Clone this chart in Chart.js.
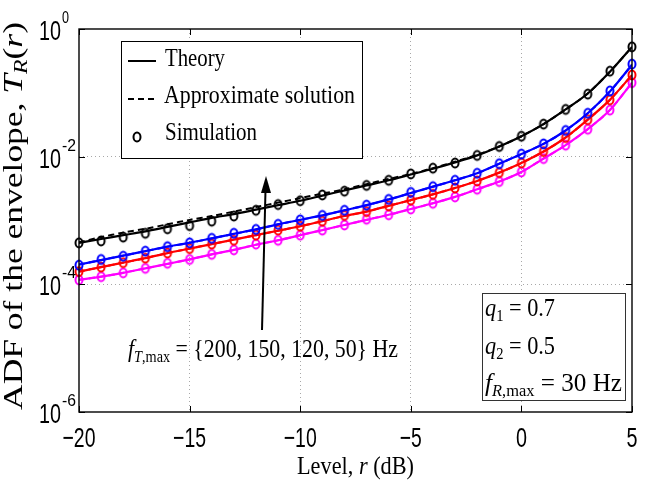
<!DOCTYPE html>
<html>
<head>
<meta charset="utf-8">
<script src="https://cdn.jsdelivr.net/npm/chart.js@4.4.1/dist/chart.umd.min.js"></script>
<style>
    html, body { margin: 0; padding: 0; background: #fff; }
    #wrap { width: 652px; height: 486px; }
</style>
</head>
<body>
<div id="wrap"><canvas id="adfChart" width="652" height="486"></canvas></div>
<script>
// level r in dB (simulation points every 1 dB)
const levels = [-20, -19, -18, -17, -16, -15, -14, -13, -12, -11, -10, -9, -8, -7, -6, -5, -4, -3, -2, -1, 0, 1, 2, 3, 4, 5];

// log10 of the ADF
// fT,max = 200 Hz (black)
const theoryBlack = [-3.35, -3.29, -3.23, -3.17, -3.10, -3.03, -2.96, -2.90, -2.83, -2.76, -2.69, -2.61, -2.53, -2.45, -2.37, -2.28, -2.19, -2.09, -1.98, -1.84, -1.68, -1.49, -1.26, -1.01, -0.67, -0.28];
const approxBlack = [-3.34, -3.26, -3.19, -3.13, -3.06, -2.99, -2.93, -2.86, -2.79, -2.72, -2.65, -2.58, -2.51, -2.43, -2.35, -2.27, -2.18, -2.08, -1.97, -1.84, -1.68, -1.49, -1.26, -1.01, -0.67, -0.28];
const simBlack = [-3.35, -3.32, -3.26, -3.20, -3.13, -3.08, -3.01, -2.93, -2.84, -2.75, -2.69, -2.60, -2.54, -2.45, -2.37, -2.27, -2.18, -2.10, -1.98, -1.84, -1.68, -1.49, -1.26, -1.02, -0.66, -0.28];
// fT,max = 150 Hz (blue)
const theoryBlue = [-3.69, -3.62, -3.55, -3.48, -3.41, -3.35, -3.28, -3.21, -3.14, -3.06, -2.99, -2.92, -2.84, -2.76, -2.67, -2.57, -2.47, -2.37, -2.26, -2.11, -1.96, -1.80, -1.59, -1.32, -0.98, -0.56];
const simBlue = [-3.70, -3.61, -3.56, -3.48, -3.41, -3.35, -3.28, -3.20, -3.14, -3.06, -2.99, -2.92, -2.84, -2.76, -2.67, -2.56, -2.47, -2.37, -2.26, -2.11, -1.96, -1.80, -1.59, -1.32, -0.97, -0.55];
// fT,max = 120 Hz (red)
const theoryRed = [-3.80, -3.73, -3.66, -3.59, -3.51, -3.44, -3.37, -3.30, -3.23, -3.16, -3.09, -3.01, -2.93, -2.86, -2.77, -2.68, -2.59, -2.49, -2.38, -2.25, -2.10, -1.92, -1.70, -1.42, -1.11, -0.72];
const simRed = [-3.80, -3.73, -3.66, -3.59, -3.51, -3.44, -3.37, -3.31, -3.23, -3.15, -3.09, -3.01, -2.92, -2.86, -2.77, -2.68, -2.59, -2.49, -2.38, -2.25, -2.10, -1.92, -1.70, -1.42, -1.11, -0.72];
// fT,max = 50 Hz (magenta)
const theoryMag = [-3.93, -3.88, -3.82, -3.75, -3.68, -3.61, -3.53, -3.46, -3.38, -3.31, -3.23, -3.15, -3.07, -2.99, -2.91, -2.82, -2.73, -2.63, -2.51, -2.39, -2.24, -2.03, -1.82, -1.57, -1.27, -0.84];
const simMag = [-3.93, -3.88, -3.82, -3.75, -3.67, -3.61, -3.53, -3.46, -3.37, -3.31, -3.23, -3.15, -3.07, -2.98, -2.91, -2.82, -2.73, -2.63, -2.51, -2.39, -2.24, -2.03, -1.82, -1.57, -1.27, -0.84];

const xTicks = [-20, -15, -10, -5, 0, 5];
const xTickLabels = ['\u221220', '\u221215', '\u221210', '\u22125', '0', '5'];
const yTicks = [1e-6, 1e-4, 1e-2, 1];
const yTickExp = ['-6', '-4', '-2', '0'];

function pts(logs) {
    return levels.map((x, i) => ({ x: x, y: Math.pow(10, logs[i]) }));
}

// slightly tall ring, like the matlab markers in the figure
function ring(color) {
    const c = document.createElement('canvas');
    c.width = 12; c.height = 14;
    const g = c.getContext('2d');
    g.strokeStyle = color;
    g.lineWidth = 2;
    g.beginPath();
    g.ellipse(6, 7, 3.5, 4.6, 0, 0, Math.PI * 2);
    g.stroke();
    return c;
}

function theoryLine(data, color) {
    return { data: pts(data), borderColor: color, borderWidth: 2.2, pointRadius: 0, fill: false, tension: 0.3 };
}
function approxLine(data, color) {
    return { data: pts(data), borderColor: color, borderWidth: 2, borderDash: [6, 4], pointRadius: 0, fill: false, tension: 0.3 };
}
function simPoints(data, color) {
    return { data: pts(data), showLine: false, pointStyle: ring(color), pointRadius: 5, clip: false };
}

const serif = '"Liberation Serif", "Times New Roman", serif';
const sans = '"Liberation Sans", Arial, sans-serif';
const rm = s => s + 'px ' + serif;
const it = s => 'italic ' + s + 'px ' + serif;

// draw a row of styled text pieces squeezed/stretched to a given width
function drawRuns(ctx, parts, x, y, width, align) {
    ctx.save();
    let total = 0;
    parts.forEach(p => { ctx.font = p.f; p.w = ctx.measureText(p.t).width; total += p.w; });
    const sx = width ? width / total : 1;
    ctx.translate(x, y);
    ctx.scale(sx, 1);
    ctx.textAlign = 'left';
    ctx.textBaseline = 'alphabetic';
    let cx = align === 'center' ? -total / 2 : (align === 'right' ? -total : 0);
    parts.forEach(p => { ctx.font = p.f; ctx.fillText(p.t, cx, p.dy || 0); cx += p.w; });
    ctx.restore();
}

const decorations = {
    id: 'decorations',
    afterDraw(chart) {
        const ctx = chart.ctx;
        const a = chart.chartArea;
        const sx = chart.scales.x, sy = chart.scales.y;
        ctx.save();
        ctx.fillStyle = '#000';
        ctx.strokeStyle = '#000';

        // frame
        ctx.lineWidth = 1.4;
        ctx.strokeRect(a.left, a.top, a.right - a.left, a.bottom - a.top);

        // inward ticks
        ctx.lineWidth = 1;
        ctx.beginPath();
        xTicks.forEach(v => {
            const px = Math.round(sx.getPixelForValue(v)) + 0.5;
            ctx.moveTo(px, a.bottom); ctx.lineTo(px, a.bottom - 6);
            ctx.moveTo(px, a.top); ctx.lineTo(px, a.top + 6);
        });
        yTicks.forEach(v => {
            const py = Math.round(sy.getPixelForValue(v)) + 0.5;
            ctx.moveTo(a.left, py); ctx.lineTo(a.left + 6, py);
            ctx.moveTo(a.right, py); ctx.lineTo(a.right - 6, py);
        });
        ctx.stroke();

        // tick labels
        xTicks.forEach((v, i) => {
            drawRuns(ctx, [{ t: xTickLabels[i], f: '28px ' + sans }], sx.getPixelForValue(v), 447, xTickLabels[i].length * 11, 'center');
        });
        yTicks.forEach((v, i) => {
            const py = sy.getPixelForValue(v);
            drawRuns(ctx, [{ t: '10', f: '28px ' + sans }], 61, py + 11, 22, 'right');
            drawRuns(ctx, [{ t: yTickExp[i], f: '17px ' + sans }], 62, py - 6, yTickExp[i].length * 7, 'left');
        });

        // axis titles
        drawRuns(ctx, [{ t: 'Level, ', f: rm(26) }, { t: 'r', f: it(26) }, { t: ' (dB)', f: rm(26) }],
            (a.left + a.right) / 2, 474, 117, 'center');
        ctx.save();
        ctx.translate(22, 216);
        ctx.rotate(-Math.PI / 2);
        drawRuns(ctx, [
            { t: 'ADF of the envelope, ', f: rm(27) },
            { t: 'T', f: it(27) },
            { t: 'R', f: it(18), dy: 5 },
            { t: '(', f: rm(27) },
            { t: 'r', f: it(27) },
            { t: ')', f: rm(27) }
        ], 0, 0, 388, 'center');
        ctx.restore();

        // legend
        ctx.fillStyle = '#fff';
        ctx.fillRect(121, 41, 241, 117);
        ctx.lineWidth = 1;
        ctx.strokeStyle = '#000';
        ctx.strokeRect(121.5, 41.5, 241, 117);
        ctx.fillStyle = '#000';
        ctx.lineWidth = 2;
        ctx.beginPath(); ctx.moveTo(128, 61); ctx.lineTo(156, 61); ctx.stroke();
        ctx.setLineDash([6, 4]);
        ctx.beginPath(); ctx.moveTo(128, 99); ctx.lineTo(158, 99); ctx.stroke();
        ctx.setLineDash([]);
        ctx.drawImage(ring('#000'), 131, 130);
        drawRuns(ctx, [{ t: 'Theory', f: rm(26) }], 165, 66, 60);
        drawRuns(ctx, [{ t: 'Approximate solution', f: rm(26) }], 164, 103, 191);
        drawRuns(ctx, [{ t: 'Simulation', f: rm(26) }], 165, 140, 92);

        // arrow
        ctx.lineWidth = 2;
        ctx.beginPath(); ctx.moveTo(262, 330); ctx.lineTo(265.5, 190); ctx.stroke();
        ctx.beginPath();
        ctx.moveTo(266, 176); ctx.lineTo(261, 193); ctx.lineTo(271, 193); ctx.closePath();
        ctx.fill();

        drawRuns(ctx, [
            { t: 'f', f: it(26) },
            { t: 'T', f: it(17), dy: 5 },
            { t: ',max', f: rm(17), dy: 5 },
            { t: ' = {200, 150, 120, 50} Hz', f: rm(26) }
        ], 128, 357, 270);

        // parameter box
        ctx.fillStyle = '#fff';
        ctx.fillRect(482, 293, 143, 107);
        ctx.strokeStyle = '#333';
        ctx.lineWidth = 1;
        ctx.strokeRect(482.5, 293.5, 143, 107);
        ctx.fillStyle = '#000';
        drawRuns(ctx, [{ t: 'q', f: it(26) }, { t: '1', f: rm(17), dy: 5 }, { t: ' = 0.7', f: rm(26) }], 485, 316, 70);
        drawRuns(ctx, [{ t: 'q', f: it(26) }, { t: '2', f: rm(17), dy: 5 }, { t: ' = 0.5', f: rm(26) }], 485, 354, 70);
        drawRuns(ctx, [
            { t: 'f', f: it(26) },
            { t: 'R', f: it(17), dy: 5 },
            { t: ',max', f: rm(17), dy: 5 },
            { t: ' = 30 Hz', f: rm(26) }
        ], 485, 391, 137);

        ctx.restore();
    }
};

function gridColor(v, lo, hi) {
    return (v === lo || v === hi) ? 'rgba(0,0,0,0)' : '#a8a8a8';
}

new Chart(document.getElementById('adfChart'), {
    type: 'line',
    data: {
        datasets: [
            theoryLine(theoryBlack, '#000000'),
            approxLine(approxBlack, '#000000'),
            simPoints(simBlack, '#000000'),
            theoryLine(theoryBlue, '#0000ff'),
            approxLine(theoryBlue, '#0000ff'),
            simPoints(simBlue, '#0000ff'),
            theoryLine(theoryRed, '#ff0000'),
            approxLine(theoryRed, '#ff0000'),
            simPoints(simRed, '#ff0000'),
            theoryLine(theoryMag, '#ff00ff'),
            approxLine(theoryMag, '#ff00ff'),
            simPoints(simMag, '#ff00ff')
        ]
    },
    options: {
        responsive: false,
        animation: false,
        devicePixelRatio: 1,
        layout: { padding: { left: 79, top: 29, right: 20, bottom: 74 } },
        plugins: { legend: { display: false }, tooltip: { enabled: false } },
        scales: {
            x: {
                type: 'linear',
                min: -20,
                max: 5,
                afterBuildTicks: s => { s.ticks = xTicks.map(v => ({ value: v })); },
                afterFit: s => { s.height = 0; },
                ticks: { display: false },
                grid: { drawTicks: false, lineWidth: 1, color: c => gridColor(c.tick ? c.tick.value : null, -20, 5) },
                border: { display: false, dash: [1, 3] }
            },
            y: {
                type: 'logarithmic',
                min: 1e-6,
                max: 1,
                afterBuildTicks: s => { s.ticks = yTicks.map(v => ({ value: v })); },
                afterFit: s => { s.width = 0; },
                ticks: { display: false },
                grid: { drawTicks: false, lineWidth: 1, color: c => gridColor(c.tick ? c.tick.value : null, 1e-6, 1) },
                border: { display: false, dash: [1, 3] }
            }
        }
    },
    plugins: [decorations]
});
</script>
</body>
</html>
